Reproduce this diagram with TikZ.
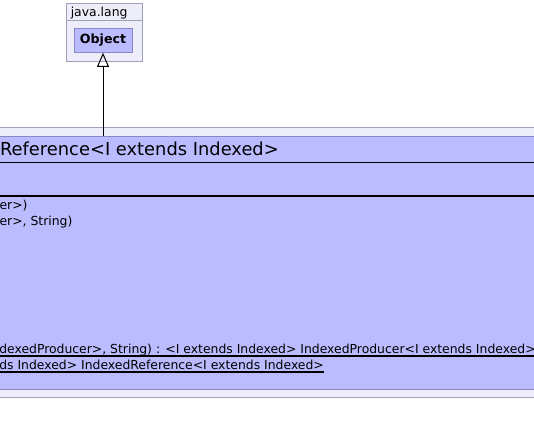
\documentclass[tikz,border=0pt]{standalone}
\usepackage{fontspec}
\setmainfont{DejaVu Sans}
\usepackage{xcolor}
\usetikzlibrary{arrows.meta,positioning,fit}

\definecolor{pkgfill}{RGB}{238,238,250}
\definecolor{pkgline}{RGB}{160,160,184}
\definecolor{clsfill}{RGB}{187,187,255}
\definecolor{clsline}{RGB}{136,136,200}

\begin{document}
\begin{tikzpicture}[
  x = 0.75pt, y = -0.75pt,
  every node/.style = {font=\fontsize{9.3}{11}\selectfont, inner sep=0pt},
  pkgbox/.style  = {rectangle, draw=pkgline, fill=pkgfill, line width=0.75pt,
                    inner sep=0pt},
  clsbox/.style  = {rectangle, draw=clsline, fill=clsfill, line width=0.75pt,
                    inner sep=0pt},
  sepline/.style = {draw=black, line width=1pt},
  member/.style  = {anchor=base west},
  uline/.style   = {draw=black, line width=0.9pt},
  inherit/.style = {-{Triangle[open, length=10.5pt, width=9pt]}, line width=0.75pt},
]

% ── Canvas (the view is cut at all four sides) ───────────────
\useasboundingbox (0,0) rectangle (534,435);
\clip (0,0) rectangle (534,435);

% ── java.lang package holding Object ─────────────────────────
\node[pkgbox, fit={(66.5,3.5) (142,61)}] (javalang) {};
\draw[draw=pkgline, line width=0.75pt] (javalang.west |- 0,21) -- (javalang.east |- 0,21);
\node[member] (javalangname) at (70.5,17) {java.lang};
\node[clsbox, minimum width=43.5pt, minimum height=18pt,
      font=\fontsize{9.5}{11}\selectfont\bfseries] (object) at (103,40.3) {Object};

% ── Package with the reference class, wider than the view ────
\node[pkgbox, fit={(-10,127.5) (545,397.5)}] (refpkg) {};
\node[clsbox, fit={(-10,136.5) (545,389)}]   (refcls) {};
\draw[sepline] (refcls.west |- 0,162.7) -- (refcls.east |- 0,162.7);
\draw[sepline, line width=1.5pt] (refcls.west |- 0,196) -- (refcls.east |- 0,196);

% ── Class name ───────────────────────────────────────────────
\node[member, font=\fontsize{13.4}{16}\selectfont] (clsname) at (-0.2,155)
  {Reference<I extends Indexed>};

% ── Operations (only their right ends are in view) ───────────
\node[member] (op1) at (-0.7,209.3) {er>)};
\node[member] (op2) at (-0.7,225.6) {er>, String)};
\node[anchor=base east] (op3) at (1,257.5) {e};
\node[member] (op4) at (-1,353.5)
  {dexedProducer>, String) : <I extends Indexed> IndexedProducer<I extends Indexed>};
\node[member] (op5) at (-1,369.5)
  {ds Indexed> IndexedReference<I extends Indexed>};
\draw[uline] (0,356) -- (op4.base east |- 0,356);
\draw[uline] (0,372) -- (op5.base east |- 0,372);

% ── Generalisation to Object ─────────────────────────────────
\draw[inherit] (object.south |- refcls.north) -- (object.south);

\end{tikzpicture}
\end{document}
